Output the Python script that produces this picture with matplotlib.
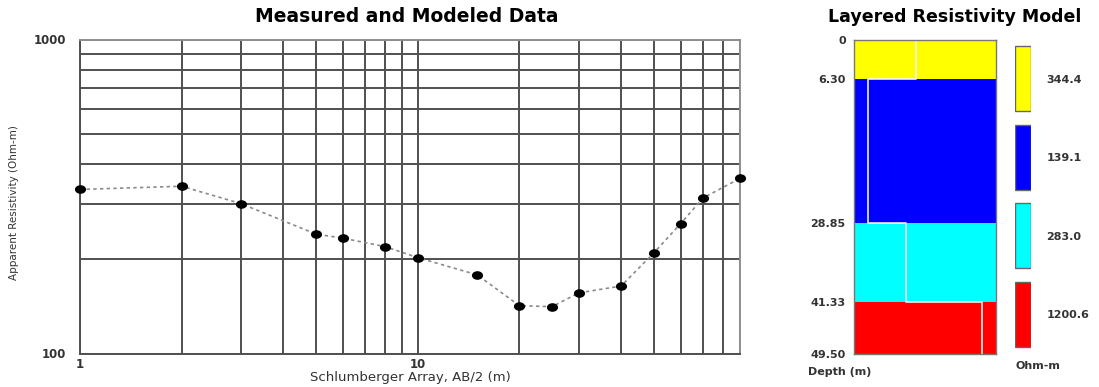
import matplotlib
matplotlib.use("Agg")
import matplotlib.pyplot as plt
from matplotlib.path import Path
from matplotlib.transforms import Affine2D
from matplotlib.ticker import FixedLocator, NullFormatter, NullLocator

# Sounding data: electrode half-spacing AB/2 (m) and apparent resistivity (Ohm-m)
ab2 = [1, 2, 3, 5, 6, 8, 10, 15, 20, 25, 30, 40, 50, 60, 70, 90]
rho_app = [333, 341, 300, 240, 233, 219, 202, 178, 142, 141, 156, 164, 209, 259, 313, 361]

# Layered model
layer_depths = [0, 6.30, 28.85, 41.33, 49.50]
layer_res = [344.4, 139.1, 283.0, 1200.6]
layer_colors = ["#ffff00", "#0000ff", "#00ffff", "#ff0000"]
depth_labels = ["0", "6.30", "28.85", "41.33", "49.50"]
res_labels = ["344.4", "139.1", "283.0", "1200.6"]

W, H = 1099, 387
fig = plt.figure(figsize=(W / 100, H / 100), dpi=100)
fig.patch.set_facecolor("white")


def px_axes(x0, y0, x1, y1):
    """Axes placed by pixel box (left, top, right, bottom)."""
    return fig.add_axes([x0 / W, 1 - y1 / H, (x1 - x0) / W, (y1 - y0) / H])


txt_col = "#333333"
grid_col = "#505050"

# flattened dot marker
ellipse = Path.unit_circle().transformed(Affine2D().scale(1.35, 1.0))

# ---------- Measured and modeled data ----------
ax = px_axes(80, 39.5, 740, 353.5)
ax.set_xscale("log")
ax.set_yscale("log")
ax.set_xlim(1, 90)
ax.set_ylim(100, 1000)

xgrid = [1, 2, 3, 4, 5, 6, 7, 8, 9, 10, 20, 30, 40, 50, 60, 70, 80, 90]
ygrid = [100, 200, 300, 400, 500, 600, 700, 800, 900, 1000]
for xv in xgrid:
    ax.axvline(xv, color=grid_col, lw=1.4, zorder=1)
for yv in ygrid:
    ax.axhline(yv, color=grid_col, lw=1.4, zorder=1)

ax.plot(ab2, rho_app, linestyle=(0, (2, 2)), color="#8a8a8a", lw=1.2, zorder=2)
ax.plot(ab2, rho_app, linestyle="none", marker=ellipse, markersize=7,
        color="black", zorder=3, clip_on=False)

ax.xaxis.set_major_locator(FixedLocator([1, 10]))
ax.xaxis.set_minor_locator(NullLocator())
ax.yaxis.set_major_locator(FixedLocator([100, 1000]))
ax.yaxis.set_minor_locator(NullLocator())
ax.set_xticklabels(["1", "10"])
ax.set_yticklabels(["100", "1000"])
ax.tick_params(length=0, labelsize=8.5, colors=txt_col, pad=3)
ax.tick_params(axis="y", pad=10)
for lab in ax.get_xticklabels() + ax.get_yticklabels():
    lab.set_fontweight("bold")
for side in ["left", "bottom"]:
    ax.spines[side].set_color(grid_col)
    ax.spines[side].set_linewidth(1.4)
for side in ["top", "right"]:
    ax.spines[side].set_color("#8f8f8f")
    ax.spines[side].set_linewidth(1.4)

fig.text(407 / W, 1 - 17 / H, "Measured and Modeled Data", ha="center", va="center",
         fontsize=13.5, fontweight="heavy", color="black", family="DejaVu Sans")
fig.text(410 / W, 1 - 377 / H, "Schlumberger Array, AB/2 (m)", ha="center", va="center",
         fontsize=9.5, color=txt_col, family="DejaVu Sans")
fig.text(14 / W, 1 - 203 / H, "Apparent Resistivity (Ohm-m)", ha="center", va="center",
         rotation=90, fontsize=7.5, color=txt_col, family="Liberation Sans Narrow")

# ---------- Layered resistivity model ----------
axm = px_axes(854, 39.5, 996, 353.5)
axm.set_xscale("log")
axm.set_xlim(106.7, 1563)
axm.set_ylim(layer_depths[-1], layer_depths[0])
for top, bot, c in zip(layer_depths[:-1], layer_depths[1:], layer_colors):
    axm.axhspan(top, bot, color=c, lw=0, zorder=1)

# model curve drawn as a white step line
step_x, step_y = [], []
for top, bot, r in zip(layer_depths[:-1], layer_depths[1:], layer_res):
    step_x += [r, r]
    step_y += [top, bot]
axm.plot(step_x, step_y, color="white", lw=1.3, alpha=0.85, zorder=2)

axm.xaxis.set_major_locator(NullLocator())
axm.xaxis.set_minor_locator(NullLocator())
axm.xaxis.set_minor_formatter(NullFormatter())
axm.set_yticks(layer_depths)
axm.set_yticklabels(depth_labels)
axm.yaxis.set_minor_locator(NullLocator())
axm.tick_params(length=0, labelsize=8, colors=txt_col, pad=6)
for lab in axm.get_yticklabels():
    lab.set_fontweight("bold")
for s in axm.spines.values():
    s.set_color("#777777")
    s.set_linewidth(1.0)

fig.text(955 / W, 1 - 17 / H, "Layered Resistivity Model", ha="center", va="center",
         fontsize=12.5, fontweight="heavy", color="black", family="DejaVu Sans")
fig.text(808 / W, 1 - 372 / H, "Depth (m)", ha="left", va="center",
         fontsize=8, fontweight="bold", color=txt_col, family="DejaVu Sans")

# ---------- Colour key ----------
axk = px_axes(1015, 39.5, 1031, 353.5)
slots = [0.5, 1.5, 2.5, 3.5]
axk.barh(slots, [1] * 4, height=0.83, left=0, color=layer_colors,
         edgecolor="#666666", linewidth=1.0)
axk.set_xlim(0, 1)
axk.set_ylim(4, 0)
axk.set_xticks([])
axk.yaxis.tick_right()
axk.set_yticks(slots)
axk.set_yticklabels(res_labels)
axk.tick_params(length=0, labelsize=8, colors=txt_col, pad=11)
for lab in axk.get_yticklabels():
    lab.set_fontweight("bold")
for s in axk.spines.values():
    s.set_visible(False)
fig.text(1015 / W, 1 - 366 / H, "Ohm-m", ha="left", va="center",
         fontsize=8, fontweight="bold", color=txt_col, family="DejaVu Sans")

fig.savefig("out.png", dpi=100, facecolor="white")
